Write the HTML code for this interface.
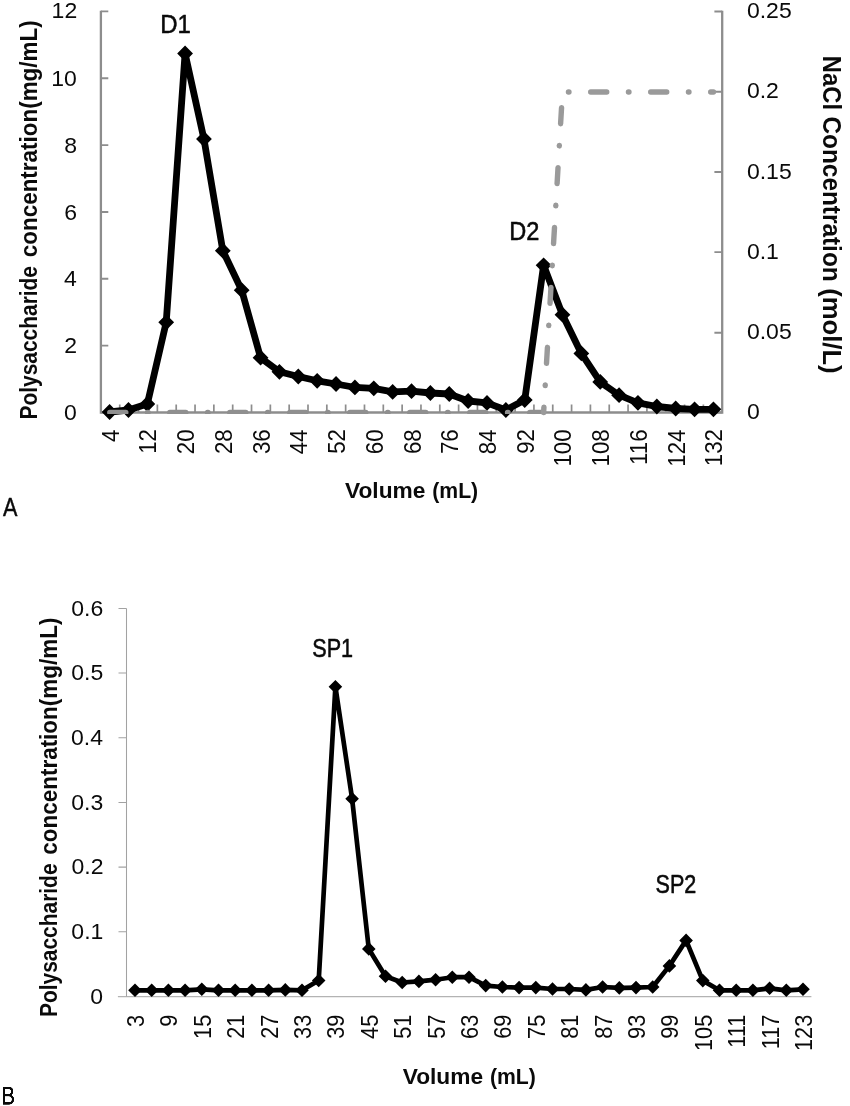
<!DOCTYPE html>
<html><head><meta charset="utf-8"><title>Elution curves</title>
<style>
html,body{margin:0;padding:0;background:#fff}
body{width:850px;height:1106px;overflow:hidden}
svg{display:block;will-change:transform}
text{font-family:"Liberation Sans",sans-serif;font-size:100px}
</style></head><body>
<svg width="850" height="1106" viewBox="0 0 850 1106">
<rect width="850" height="1106" fill="#fff"/>
<filter id="gs" x="0" y="0" width="850" height="1106" filterUnits="userSpaceOnUse" color-interpolation-filters="sRGB"><feOffset dx="0" dy="0"/></filter>
<g filter="url(#gs)">
<g stroke="#8d8d8d" fill="none">
<path stroke-width="2.3" d="M100.9 10.7 V412.5 H722.2 V10.7"/>
<path stroke-width="1.9" d="M100.9 412.5h7.4M100.9 345.65h7.4M100.9 278.8h7.4M100.9 211.95h7.4M100.9 145.1h7.4M100.9 78.25h7.4M100.9 11.4h7.4M722.2 412.5h-7.8M722.2 332.7h-7.8M722.2 252.1h-7.8M722.2 172h-7.8M722.2 91.8h-7.8M722.2 11.5h-7.8"/>
<path stroke-width="1.7" d="M119.73 412.5v-7.9M138.55 412.5v-7.9M157.38 412.5v-7.9M176.21 412.5v-7.9M195.04 412.5v-7.9M213.86 412.5v-7.9M232.69 412.5v-7.9M251.52 412.5v-7.9M270.35 412.5v-7.9M289.17 412.5v-7.9M308 412.5v-7.9M326.83 412.5v-7.9M345.65 412.5v-7.9M364.48 412.5v-7.9M383.31 412.5v-7.9M402.14 412.5v-7.9M420.96 412.5v-7.9M439.79 412.5v-7.9M458.62 412.5v-7.9M477.45 412.5v-7.9M496.27 412.5v-7.9M515.1 412.5v-7.9M533.93 412.5v-7.9M552.75 412.5v-7.9M571.58 412.5v-7.9M590.41 412.5v-7.9M609.24 412.5v-7.9M628.06 412.5v-7.9M646.89 412.5v-7.9M665.72 412.5v-7.9M684.55 412.5v-7.9M703.37 412.5v-7.9"/>
</g>
<path d="M109.6 412 L128.47 410 L147.34 404 L166.21 322.3 L185.08 53.5 L203.95 139 L222.82 250.7 L241.69 290.2 L260.56 357.7 L279.43 371.8 L298.3 376.5 L317.17 380.8 L336.04 384 L354.91 387.4 L373.78 388.3 L392.65 391.9 L411.52 391.2 L430.39 393 L449.26 394 L468.13 401 L487 402.9 L505.87 410 L524.74 400 L543.61 265.3 L562.48 314.7 L581.35 353.4 L600.22 381.9 L619.09 395.2 L637.96 402.8 L656.83 406.5 L675.7 408.5 L694.57 409.3 L713.44 409.3" fill="none" stroke="#000" stroke-width="6.8" stroke-linejoin="round" stroke-linecap="round"/>
<path d="M101.7 412l7.9 -7.9l7.9 7.9l-7.9 7.9zM120.57 410l7.9 -7.9l7.9 7.9l-7.9 7.9zM139.44 404l7.9 -7.9l7.9 7.9l-7.9 7.9zM158.31 322.3l7.9 -7.9l7.9 7.9l-7.9 7.9zM177.18 53.5l7.9 -7.9l7.9 7.9l-7.9 7.9zM196.05 139l7.9 -7.9l7.9 7.9l-7.9 7.9zM214.92 250.7l7.9 -7.9l7.9 7.9l-7.9 7.9zM233.79 290.2l7.9 -7.9l7.9 7.9l-7.9 7.9zM252.66 357.7l7.9 -7.9l7.9 7.9l-7.9 7.9zM271.53 371.8l7.9 -7.9l7.9 7.9l-7.9 7.9zM290.4 376.5l7.9 -7.9l7.9 7.9l-7.9 7.9zM309.27 380.8l7.9 -7.9l7.9 7.9l-7.9 7.9zM328.14 384l7.9 -7.9l7.9 7.9l-7.9 7.9zM347.01 387.4l7.9 -7.9l7.9 7.9l-7.9 7.9zM365.88 388.3l7.9 -7.9l7.9 7.9l-7.9 7.9zM384.75 391.9l7.9 -7.9l7.9 7.9l-7.9 7.9zM403.62 391.2l7.9 -7.9l7.9 7.9l-7.9 7.9zM422.49 393l7.9 -7.9l7.9 7.9l-7.9 7.9zM441.36 394l7.9 -7.9l7.9 7.9l-7.9 7.9zM460.23 401l7.9 -7.9l7.9 7.9l-7.9 7.9zM479.1 402.9l7.9 -7.9l7.9 7.9l-7.9 7.9zM497.97 410l7.9 -7.9l7.9 7.9l-7.9 7.9zM516.84 400l7.9 -7.9l7.9 7.9l-7.9 7.9zM535.71 265.3l7.9 -7.9l7.9 7.9l-7.9 7.9zM554.58 314.7l7.9 -7.9l7.9 7.9l-7.9 7.9zM573.45 353.4l7.9 -7.9l7.9 7.9l-7.9 7.9zM592.32 381.9l7.9 -7.9l7.9 7.9l-7.9 7.9zM611.19 395.2l7.9 -7.9l7.9 7.9l-7.9 7.9zM630.06 402.8l7.9 -7.9l7.9 7.9l-7.9 7.9zM648.93 406.5l7.9 -7.9l7.9 7.9l-7.9 7.9zM667.8 408.5l7.9 -7.9l7.9 7.9l-7.9 7.9zM686.67 409.3l7.9 -7.9l7.9 7.9l-7.9 7.9zM705.54 409.3l7.9 -7.9l7.9 7.9l-7.9 7.9z" fill="#000"/>
<clipPath id="cb"><rect x="0" y="400" width="850" height="13.9"/></clipPath>
<path clip-path="url(#cb)" d="M109.6 412.5 H543.61" fill="none" stroke="#8f8f8f" stroke-width="5.4" stroke-linecap="round" stroke-dasharray="16 21.75 0.5 21.75" stroke-dashoffset="59.8"/>
<path d="M543.61 412.5 L562.48 92 H713.44" fill="none" stroke="#9a9a9a" stroke-width="5.4" stroke-linecap="round" stroke-linejoin="round" stroke-dasharray="16 21.75 0.5 21.75" stroke-dashoffset="10.71"/>
<text transform="translate(64.03 420.05) scale(0.2303 0.2214)" fill="#0a0a0a">0</text>
<text transform="translate(64.37 353.2) scale(0.2303 0.2214)" fill="#0a0a0a">2</text>
<text transform="translate(63.91 286.35) scale(0.2303 0.2214)" fill="#0a0a0a">4</text>
<text transform="translate(64.14 219.5) scale(0.2303 0.2214)" fill="#0a0a0a">6</text>
<text transform="translate(64.14 152.65) scale(0.2303 0.2214)" fill="#0a0a0a">8</text>
<text transform="translate(51.24 85.8) scale(0.2303 0.2214)" fill="#0a0a0a">10</text>
<text transform="translate(51.59 17.85) scale(0.2303 0.2214)" fill="#0a0a0a">12</text>
<text transform="translate(746.88 419.15) scale(0.2303 0.2214)" fill="#0a0a0a">0</text>
<text transform="translate(746.88 339.35) scale(0.2303 0.2214)" fill="#0a0a0a">0.05</text>
<text transform="translate(746.88 258.75) scale(0.2303 0.2214)" fill="#0a0a0a">0.1</text>
<text transform="translate(746.88 178.65) scale(0.2303 0.2214)" fill="#0a0a0a">0.15</text>
<text transform="translate(746.88 98.45) scale(0.2303 0.2214)" fill="#0a0a0a">0.2</text>
<text transform="translate(746.88 18.15) scale(0.2303 0.2214)" fill="#0a0a0a">0.25</text>
<text transform="translate(118.6 441.92) rotate(-90) scale(0.2232 0.2400)" fill="#0a0a0a">4</text>
<text transform="translate(156.34 453.86) rotate(-90) scale(0.2232 0.2400)" fill="#0a0a0a">12</text>
<text transform="translate(194.08 454.19) rotate(-90) scale(0.2232 0.2400)" fill="#0a0a0a">20</text>
<text transform="translate(231.82 454.08) rotate(-90) scale(0.2232 0.2400)" fill="#0a0a0a">28</text>
<text transform="translate(269.56 454.08) rotate(-90) scale(0.2232 0.2400)" fill="#0a0a0a">36</text>
<text transform="translate(307.3 454.31) rotate(-90) scale(0.2232 0.2400)" fill="#0a0a0a">44</text>
<text transform="translate(345.04 453.86) rotate(-90) scale(0.2232 0.2400)" fill="#0a0a0a">52</text>
<text transform="translate(382.78 454.19) rotate(-90) scale(0.2232 0.2400)" fill="#0a0a0a">60</text>
<text transform="translate(420.52 454.08) rotate(-90) scale(0.2232 0.2400)" fill="#0a0a0a">68</text>
<text transform="translate(458.26 454.08) rotate(-90) scale(0.2232 0.2400)" fill="#0a0a0a">76</text>
<text transform="translate(496 454.31) rotate(-90) scale(0.2232 0.2400)" fill="#0a0a0a">84</text>
<text transform="translate(533.74 453.86) rotate(-90) scale(0.2232 0.2400)" fill="#0a0a0a">92</text>
<text transform="translate(571.48 466.58) rotate(-90) scale(0.2232 0.2400)" fill="#0a0a0a">100</text>
<text transform="translate(609.22 466.47) rotate(-90) scale(0.2232 0.2400)" fill="#0a0a0a">108</text>
<text transform="translate(646.96 464.91) rotate(-90) scale(0.2232 0.2400)" fill="#0a0a0a">116</text>
<text transform="translate(684.7 466.69) rotate(-90) scale(0.2232 0.2400)" fill="#0a0a0a">124</text>
<text transform="translate(722.44 466.25) rotate(-90) scale(0.2232 0.2400)" fill="#0a0a0a">132</text>
<text transform="translate(37 419.46) rotate(-90) scale(0.2093 0.2435)" font-weight="bold" fill="#0a0a0a">Polysaccharide</text>
<text transform="translate(37 257.2) rotate(-90) scale(0.2246 0.2435)" font-weight="bold" fill="#0a0a0a">concentration(mg/mL)</text>
<text transform="translate(822.8 55.85) rotate(90) scale(0.2382 0.2565)" font-weight="bold" fill="#0a0a0a">NaCl</text>
<text transform="translate(822.8 116.42) rotate(90) scale(0.2440 0.2565)" font-weight="bold" fill="#0a0a0a">Concentration</text>
<text transform="translate(822.8 288.22) rotate(90) scale(0.2563 0.2565)" font-weight="bold" fill="#0a0a0a">(mol/L)</text>
<text transform="translate(344.99 498.3) scale(0.2275 0.2159)" font-weight="bold" fill="#0a0a0a">Volume</text>
<text transform="translate(432.24 498.3) scale(0.2121 0.2159)" font-weight="bold" fill="#0a0a0a">(mL)</text>
<text transform="translate(160.18 32.7) scale(0.2400 0.2609)" stroke="#0a0a0a" stroke-width="2.00" stroke-linejoin="round" fill="#0a0a0a">D1</text>
<text transform="translate(509.31 239.8) scale(0.2358 0.2565)" stroke="#0a0a0a" stroke-width="2.03" stroke-linejoin="round" fill="#0a0a0a">D2</text>
<text transform="translate(2.9 515.7) scale(0.2165 0.2580)" stroke="#0a0a0a" stroke-width="1.90" stroke-linejoin="round" fill="#0a0a0a">A</text>
<path d="M117.9 996.7H811.4" stroke="#b3b3b3" stroke-width="1.2" fill="none"/>
<path d="M126.5 608.4V996.5M126.5 931.82h-8M126.5 867.13h-8M126.5 802.45h-8M126.5 737.77h-8M126.5 673.08h-8M126.5 608.4h-8" stroke="#a2a2a2" stroke-width="1.05" fill="none"/>
<path d="M135 990.3 L151.7 990.3 L168.4 990.3 L185.1 990.3 L201.8 989.3 L218.5 990.3 L235.2 990.3 L251.9 990.3 L268.6 990.3 L285.3 989.9 L302 990.3 L318.7 980.5 L335.4 686.7 L352.1 798.7 L368.8 948.9 L385.5 976.3 L402.2 982.5 L418.9 981.4 L435.6 979.7 L452.3 977.2 L469 977.2 L485.7 985.6 L502.4 987 L519.1 987.6 L535.8 987.6 L552.5 989 L569.2 989 L585.9 989.9 L602.6 987 L619.3 987.9 L636 987.6 L652.7 987 L669.4 965.9 L686.1 940.4 L702.8 980.6 L719.5 990.3 L736.2 990.3 L752.9 990.3 L769.6 988.3 L786.3 990.3 L803 989.3" fill="none" stroke="#000" stroke-width="4.7" stroke-linejoin="round" stroke-linecap="round"/>
<path d="M128.2 990.3l6.8 -6.8l6.8 6.8l-6.8 6.8zM144.9 990.3l6.8 -6.8l6.8 6.8l-6.8 6.8zM161.6 990.3l6.8 -6.8l6.8 6.8l-6.8 6.8zM178.3 990.3l6.8 -6.8l6.8 6.8l-6.8 6.8zM195 989.3l6.8 -6.8l6.8 6.8l-6.8 6.8zM211.7 990.3l6.8 -6.8l6.8 6.8l-6.8 6.8zM228.4 990.3l6.8 -6.8l6.8 6.8l-6.8 6.8zM245.1 990.3l6.8 -6.8l6.8 6.8l-6.8 6.8zM261.8 990.3l6.8 -6.8l6.8 6.8l-6.8 6.8zM278.5 989.9l6.8 -6.8l6.8 6.8l-6.8 6.8zM295.2 990.3l6.8 -6.8l6.8 6.8l-6.8 6.8zM311.9 980.5l6.8 -6.8l6.8 6.8l-6.8 6.8zM328.6 686.7l6.8 -6.8l6.8 6.8l-6.8 6.8zM345.3 798.7l6.8 -6.8l6.8 6.8l-6.8 6.8zM362 948.9l6.8 -6.8l6.8 6.8l-6.8 6.8zM378.7 976.3l6.8 -6.8l6.8 6.8l-6.8 6.8zM395.4 982.5l6.8 -6.8l6.8 6.8l-6.8 6.8zM412.1 981.4l6.8 -6.8l6.8 6.8l-6.8 6.8zM428.8 979.7l6.8 -6.8l6.8 6.8l-6.8 6.8zM445.5 977.2l6.8 -6.8l6.8 6.8l-6.8 6.8zM462.2 977.2l6.8 -6.8l6.8 6.8l-6.8 6.8zM478.9 985.6l6.8 -6.8l6.8 6.8l-6.8 6.8zM495.6 987l6.8 -6.8l6.8 6.8l-6.8 6.8zM512.3 987.6l6.8 -6.8l6.8 6.8l-6.8 6.8zM529 987.6l6.8 -6.8l6.8 6.8l-6.8 6.8zM545.7 989l6.8 -6.8l6.8 6.8l-6.8 6.8zM562.4 989l6.8 -6.8l6.8 6.8l-6.8 6.8zM579.1 989.9l6.8 -6.8l6.8 6.8l-6.8 6.8zM595.8 987l6.8 -6.8l6.8 6.8l-6.8 6.8zM612.5 987.9l6.8 -6.8l6.8 6.8l-6.8 6.8zM629.2 987.6l6.8 -6.8l6.8 6.8l-6.8 6.8zM645.9 987l6.8 -6.8l6.8 6.8l-6.8 6.8zM662.6 965.9l6.8 -6.8l6.8 6.8l-6.8 6.8zM679.3 940.4l6.8 -6.8l6.8 6.8l-6.8 6.8zM696 980.6l6.8 -6.8l6.8 6.8l-6.8 6.8zM712.7 990.3l6.8 -6.8l6.8 6.8l-6.8 6.8zM729.4 990.3l6.8 -6.8l6.8 6.8l-6.8 6.8zM746.1 990.3l6.8 -6.8l6.8 6.8l-6.8 6.8zM762.8 988.3l6.8 -6.8l6.8 6.8l-6.8 6.8zM779.5 990.3l6.8 -6.8l6.8 6.8l-6.8 6.8zM796.2 989.3l6.8 -6.8l6.8 6.8l-6.8 6.8z" fill="#000"/>
<text transform="translate(90.33 1003.85) scale(0.2303 0.2214)" fill="#0a0a0a">0</text>
<text transform="translate(71.33 939.17) scale(0.2303 0.2214)" fill="#0a0a0a">0.1</text>
<text transform="translate(71.44 874.48) scale(0.2303 0.2214)" fill="#0a0a0a">0.2</text>
<text transform="translate(71.21 809.8) scale(0.2303 0.2214)" fill="#0a0a0a">0.3</text>
<text transform="translate(70.98 745.12) scale(0.2303 0.2214)" fill="#0a0a0a">0.4</text>
<text transform="translate(71.21 680.43) scale(0.2303 0.2214)" fill="#0a0a0a">0.5</text>
<text transform="translate(71.21 615.75) scale(0.2303 0.2214)" fill="#0a0a0a">0.6</text>
<text transform="translate(143.9 1026.89) rotate(-90) scale(0.2172 0.2400)" fill="#0a0a0a">3</text>
<text transform="translate(177.3 1026.78) rotate(-90) scale(0.2172 0.2400)" fill="#0a0a0a">9</text>
<text transform="translate(210.7 1038.94) rotate(-90) scale(0.2172 0.2400)" fill="#0a0a0a">15</text>
<text transform="translate(244.1 1038.83) rotate(-90) scale(0.2172 0.2400)" fill="#0a0a0a">21</text>
<text transform="translate(277.5 1038.72) rotate(-90) scale(0.2172 0.2400)" fill="#0a0a0a">27</text>
<text transform="translate(310.9 1038.94) rotate(-90) scale(0.2172 0.2400)" fill="#0a0a0a">33</text>
<text transform="translate(344.3 1038.83) rotate(-90) scale(0.2172 0.2400)" fill="#0a0a0a">39</text>
<text transform="translate(377.7 1038.94) rotate(-90) scale(0.2172 0.2400)" fill="#0a0a0a">45</text>
<text transform="translate(411.1 1038.83) rotate(-90) scale(0.2172 0.2400)" fill="#0a0a0a">51</text>
<text transform="translate(444.5 1038.72) rotate(-90) scale(0.2172 0.2400)" fill="#0a0a0a">57</text>
<text transform="translate(477.9 1038.94) rotate(-90) scale(0.2172 0.2400)" fill="#0a0a0a">63</text>
<text transform="translate(511.3 1038.83) rotate(-90) scale(0.2172 0.2400)" fill="#0a0a0a">69</text>
<text transform="translate(544.7 1038.94) rotate(-90) scale(0.2172 0.2400)" fill="#0a0a0a">75</text>
<text transform="translate(578.1 1038.83) rotate(-90) scale(0.2172 0.2400)" fill="#0a0a0a">81</text>
<text transform="translate(611.5 1038.72) rotate(-90) scale(0.2172 0.2400)" fill="#0a0a0a">87</text>
<text transform="translate(644.9 1038.94) rotate(-90) scale(0.2172 0.2400)" fill="#0a0a0a">93</text>
<text transform="translate(678.3 1038.83) rotate(-90) scale(0.2172 0.2400)" fill="#0a0a0a">99</text>
<text transform="translate(711.7 1050.99) rotate(-90) scale(0.2172 0.2400)" fill="#0a0a0a">105</text>
<text transform="translate(745.1 1047.74) rotate(-90) scale(0.2172 0.2400)" fill="#0a0a0a">111</text>
<text transform="translate(778.5 1049.26) rotate(-90) scale(0.2172 0.2400)" fill="#0a0a0a">117</text>
<text transform="translate(811.9 1050.99) rotate(-90) scale(0.2172 0.2400)" fill="#0a0a0a">123</text>
<text transform="translate(56.8 1017.06) rotate(-90) scale(0.2094 0.2406)" font-weight="bold" fill="#0a0a0a">Polysaccharide</text>
<text transform="translate(56.8 854.7) rotate(-90) scale(0.2247 0.2406)" font-weight="bold" fill="#0a0a0a">concentration(mg/mL)</text>
<text transform="translate(402.69 1083.8) scale(0.2275 0.2203)" font-weight="bold" fill="#0a0a0a">Volume</text>
<text transform="translate(489.94 1083.8) scale(0.2121 0.2203)" font-weight="bold" fill="#0a0a0a">(mL)</text>
<text transform="translate(312.23 656.8) scale(0.2161 0.2580)" stroke="#0a0a0a" stroke-width="2.11" stroke-linejoin="round" fill="#0a0a0a">SP1</text>
<text transform="translate(655.53 893) scale(0.2156 0.2565)" stroke="#0a0a0a" stroke-width="2.12" stroke-linejoin="round" fill="#0a0a0a">SP2</text>
<text transform="translate(1.61 1104.3) scale(0.1981 0.2507)" stroke="#0a0a0a" stroke-width="2.01" stroke-linejoin="round" fill="#0a0a0a">B</text>
</g>
</svg>
</body></html>
